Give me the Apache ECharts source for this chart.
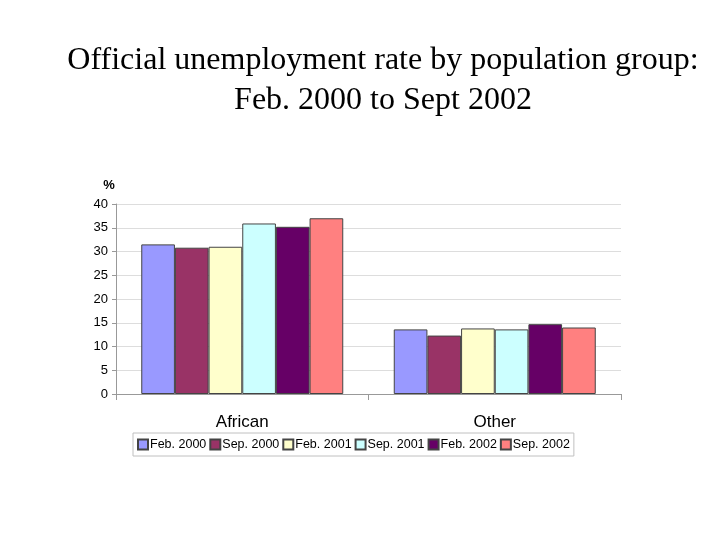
<!DOCTYPE html><html><head><meta charset="utf-8"><script src="https://cdn.jsdelivr.net/npm/echarts@6/dist/echarts.min.js"></script></head><body style="margin:0;background:#fff"><div id="c" style="width:720px;height:540px"></div><script>
const categories=['African','Other'];
const seriesNames=['Feb. 2000','Sep. 2000','Feb. 2001','Sep. 2001','Feb. 2002','Sep. 2002'];
const feb2000=[31.5,13.6];
const sep2000=[30.8,12.3];
const feb2001=[31.0,13.8];
const sep2001=[35.9,13.6];
const feb2002=[35.2,14.7];
const sep2002=[37.0,14.0];
const values=[feb2000,sep2000,feb2001,sep2001,feb2002,sep2002];
const colors=['#9999ff','#993366','#ffffcc','#ccffff','#660066','#ff8080'];
const ch=echarts.init(document.getElementById('c'));
ch.setOption({
title:{text:'Official unemployment rate by population group:\nFeb. 2000 to Sept 2002',left:378,textAlign:'center',top:36,textStyle:{fontFamily:'Liberation Serif',fontWeight:'normal',fontSize:32,color:'#000',lineHeight:40}},
legend:{data:seriesNames,left:133,top:433,width:480,itemGap:3,itemWidth:10,itemHeight:10,padding:[5,4],borderColor:'#c0c0c0',borderWidth:1,icon:'rect',textStyle:{fontFamily:'Liberation Sans',fontSize:12.5,color:'#000',padding:[0,0,0,-3]}},
grid:{left:116,right:99,top:204,bottom:146},
xAxis:{type:'category',data:categories,axisLine:{lineStyle:{color:'#999'}},axisTick:{show:true,length:6,lineStyle:{color:'#999'}},axisLabel:{fontFamily:'Liberation Sans',fontSize:17,color:'#000',margin:20}},
yAxis:{type:'value',min:0,max:40,interval:5,name:'%',nameLocation:'end',nameGap:12,nameTextStyle:{fontFamily:'Liberation Sans',fontWeight:'bold',fontSize:13,color:'#000',padding:[0,0,0,-14]},axisLine:{show:true,lineStyle:{color:'#999'}},axisTick:{show:true,length:4,lineStyle:{color:'#999'}},axisLabel:{fontFamily:'Liberation Sans',fontSize:13,color:'#000',margin:8},splitLine:{lineStyle:{color:'#ddd'}}},
series:seriesNames.map((n,i)=>({name:n,type:'bar',data:values[i],barGap:'0%',barCategoryGap:'20%',itemStyle:{color:colors[i],borderColor:'#444',borderWidth:1}}))
});
</script></body></html>
